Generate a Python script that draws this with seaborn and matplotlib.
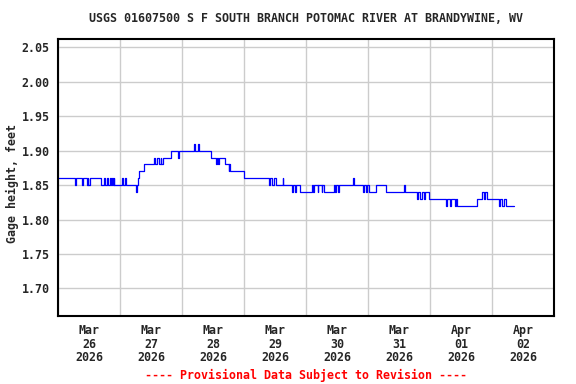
import pandas as pd
import matplotlib
matplotlib.use('Agg')
import matplotlib.pyplot as plt
import matplotlib.dates as mdates
import seaborn as sns

# Step changes in gage height (hours since 2026-03-26 00:00, feet)
change_hours = [
    0, 6.75, 7.0, 9.25, 9.5, 11.25, 11.5, 11.75, 12.25, 16.5,
    17.75, 18.0, 19.0, 19.25, 20.25, 20.5, 21.0, 21.25, 21.5, 21.75,
    24.75, 25.0, 25.75, 26.25, 30.0, 30.75, 31.0, 31.5, 33.25, 37.25,
    37.5, 38.5, 39.0, 39.75, 40.0, 40.75, 43.75, 46.5, 46.75, 52.5,
    53.0, 54.0, 54.75, 59.25, 61.25, 61.5, 62.0, 62.5, 64.5, 66.0,
    66.25, 66.75, 72.0, 81.75, 82.0, 83.0, 83.5, 84.5, 87.0, 87.25,
    90.75, 91.0, 91.75, 92.25, 93.5, 94.25, 98.5, 98.75, 99.25, 100.5,
    100.75, 102.0, 102.25, 103.0, 107.0, 107.25, 107.75, 108.5, 108.75, 114.25,
    114.5, 118.0, 118.5, 119.25, 119.75, 120.5, 123.25, 127.0, 134.0, 134.25,
    139.0, 139.5, 140.25, 140.75, 141.5, 142.0, 143.5, 150.25, 150.75, 151.75,
    152.25, 153.5, 154.0, 154.5, 162.25, 164.0, 164.75, 165.25, 166.25, 170.75,
    171.25, 172.0, 172.5, 173.5, 176.5,
]
gage_height = [
    1.86, 1.85, 1.86, 1.85, 1.86, 1.85, 1.86, 1.85, 1.86, 1.85,
    1.86, 1.85, 1.86, 1.85, 1.86, 1.85, 1.86, 1.85, 1.86, 1.85,
    1.86, 1.85, 1.86, 1.85, 1.84, 1.85, 1.86, 1.87, 1.88, 1.89,
    1.88, 1.89, 1.88, 1.89, 1.88, 1.89, 1.90, 1.89, 1.90, 1.91,
    1.90, 1.91, 1.90, 1.89, 1.88, 1.89, 1.88, 1.89, 1.88, 1.87,
    1.88, 1.87, 1.86, 1.85, 1.86, 1.85, 1.86, 1.85, 1.86, 1.85,
    1.84, 1.85, 1.84, 1.85, 1.84, 1.84, 1.85, 1.84, 1.85, 1.84,
    1.85, 1.84, 1.85, 1.84, 1.85, 1.84, 1.85, 1.84, 1.85, 1.86,
    1.85, 1.84, 1.85, 1.84, 1.85, 1.84, 1.85, 1.84, 1.85, 1.84,
    1.83, 1.84, 1.83, 1.84, 1.83, 1.84, 1.83, 1.82, 1.83, 1.82,
    1.83, 1.82, 1.83, 1.82, 1.83, 1.84, 1.83, 1.84, 1.83, 1.82,
    1.83, 1.82, 1.83, 1.82, 1.82,
]
y_ticks = [1.70, 1.75, 1.80, 1.85, 1.90, 1.95, 2.00, 2.05]

start = pd.Timestamp('2026-03-26')
df = pd.DataFrame({
    'time': start + pd.to_timedelta(change_hours, unit='h'),
    'value': gage_height,
})

sns.set_style('white')
plt.rcParams['font.family'] = ['DejaVu Sans Mono']
plt.rcParams['font.weight'] = 'bold'
FS = 8.4

fig = plt.figure(figsize=(5.76, 3.84), dpi=100)
ax = fig.add_axes([58 / 576, 1 - 316 / 384, 496 / 576, 277 / 384])

sns.lineplot(data=df, x='time', y='value', ax=ax, color='#0000ff',
             linewidth=0.9, drawstyle='steps-post', estimator=None)

ax.set_xlim(start, start + pd.Timedelta(days=8))
ax.set_ylim(1.66, 2.062)
ax.set_yticks(y_ticks)
ax.set_yticklabels([f'{v:.2f}' for v in y_ticks], fontsize=FS, fontweight='bold')

ax.xaxis.set_major_locator(mdates.HourLocator(byhour=12))
ax.xaxis.set_major_formatter(mdates.DateFormatter('%b\n%d\n%Y'))
ax.xaxis.set_minor_locator(mdates.DayLocator())
for lbl in ax.get_xticklabels():
    lbl.set_fontsize(FS)
    lbl.set_fontweight('bold')
    lbl.set_linespacing(1.02)

ax.tick_params(axis='y', which='both', length=0, pad=6)
ax.tick_params(axis='x', which='both', length=0, pad=6)
ax.grid(True, axis='y', which='major', color='#cccccc', linewidth=1)
ax.grid(True, axis='x', which='minor', color='#cccccc', linewidth=1)
ax.grid(False, axis='x', which='major')

for s in ax.spines.values():
    s.set_color('black')
    s.set_linewidth(1.5)

ax.set_xlabel('')
ax.set_ylabel('Gage height, feet', fontsize=FS, fontweight='bold')
ax.yaxis.set_label_coords(-0.079, 0.48)
fig.text(306 / 576, 1 - 19 / 384,
         'USGS 01607500 S F SOUTH BRANCH POTOMAC RIVER AT BRANDYWINE, WV',
         ha='center', va='center', fontsize=FS, fontweight='bold')
fig.text(306 / 576, 1 - 375 / 384,
         '---- Provisional Data Subject to Revision ----',
         ha='center', va='center', fontsize=FS, fontweight='bold', color='red')

fig.savefig('out.png', dpi=100)
